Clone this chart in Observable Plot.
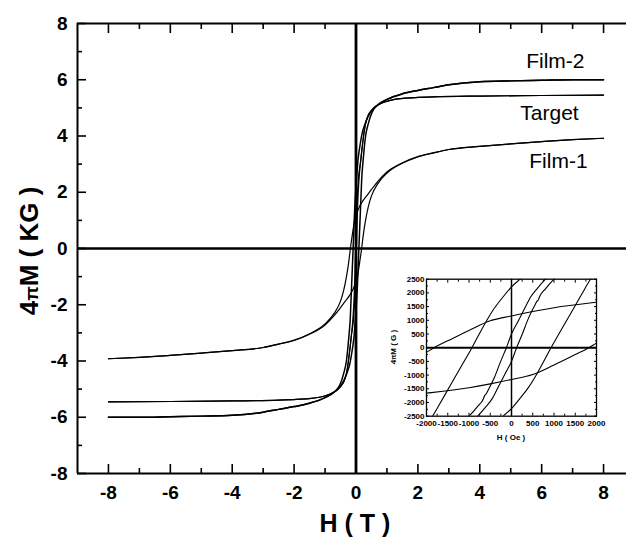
<!DOCTYPE html>
<html>
<head>
<meta charset="utf-8">
<script src="https://cdn.jsdelivr.net/npm/d3@7"></script>
<script src="https://cdn.jsdelivr.net/npm/@observablehq/plot@0.6"></script>
<style>
  body { margin: 0; background: #fff; }
  #chart { position: relative; width: 626px; height: 546px; overflow: hidden; background: #fff; }
  #chart svg { position: absolute; }
</style>
</head>
<body>
<div id="chart"></div>
<script>
const FONT = "'Liberation Sans', Arial, Helvetica, sans-serif";

// Hysteresis branches, [H (T), 4πM (kG)], each listed in increasing field.
// "Down" = field swept from +8 T to -8 T, "Up" = swept from -8 T to +8 T.
const film1Down = [[-8,-3.92],[-7,-3.87],[-6,-3.80],[-5,-3.72],[-4,-3.63],[-3,-3.52],[-2.5,-3.40],[-2,-3.26],[-1.5,-3.03],[-1,-2.68],[-0.7,-2.30],[-0.5,-1.87],[-0.4,-1.50],[-0.3,-0.95],[-0.25,-0.60],[-0.2,-0.17],[-0.18,0.02],[-0.15,0.25],[-0.1,0.63],[-0.05,0.98],[0,1.16],[0.05,1.32],[0.1,1.46],[0.2,1.66],[0.35,1.88],[0.5,2.10],[0.7,2.38],[1,2.72],[1.5,3.05],[2,3.27],[2.5,3.40],[3,3.52],[4,3.63],[5,3.72],[6,3.80],[7,3.87],[8,3.92]];
const film1Up = [[-8,-3.92],[-7,-3.87],[-6,-3.80],[-5,-3.72],[-4,-3.63],[-3,-3.52],[-2.5,-3.40],[-2,-3.27],[-1.5,-3.05],[-1,-2.72],[-0.7,-2.38],[-0.5,-2.10],[-0.35,-1.88],[-0.2,-1.66],[-0.1,-1.46],[-0.05,-1.32],[0,-1.16],[0.05,-0.98],[0.1,-0.63],[0.15,-0.25],[0.18,-0.02],[0.2,0.17],[0.25,0.60],[0.3,0.95],[0.4,1.50],[0.5,1.87],[0.7,2.30],[1,2.68],[1.5,3.03],[2,3.26],[2.5,3.40],[3,3.52],[4,3.63],[5,3.72],[6,3.80],[7,3.87],[8,3.92]];

const film2Down = [[-8,-6.00],[-7,-6.00],[-6,-5.98],[-5,-5.96],[-4,-5.93],[-3,-5.82],[-2.5,-5.72],[-2,-5.62],[-1.5,-5.50],[-1,-5.30],[-0.7,-5.10],[-0.52,-4.85],[-0.4,-4.45],[-0.31,-4.00],[-0.26,-3.50],[-0.22,-3.00],[-0.185,-2.48],[-0.17,-2.08],[-0.15,-1.54],[-0.13,-1.00],[-0.11,-0.46],[-0.093,0],[-0.08,0.38],[-0.06,0.95],[-0.04,1.45],[-0.02,1.85],[0,2.22],[0.02,2.50],[0.06,3.10],[0.12,3.60],[0.2,4.10],[0.3,4.45],[0.5,4.90],[0.7,5.10],[1,5.30],[1.5,5.50],[2,5.62],[2.5,5.72],[3,5.82],[4,5.93],[5,5.96],[6,5.98],[7,6.00],[8,6.00]];
const film2Up = [[-8,-6.00],[-7,-6.00],[-6,-5.98],[-5,-5.96],[-4,-5.93],[-3,-5.82],[-2.5,-5.72],[-2,-5.62],[-1.5,-5.50],[-1,-5.30],[-0.7,-5.10],[-0.5,-4.90],[-0.3,-4.45],[-0.2,-4.10],[-0.12,-3.60],[-0.06,-3.10],[-0.02,-2.50],[0,-2.22],[0.02,-1.85],[0.04,-1.45],[0.06,-0.95],[0.08,-0.38],[0.093,0],[0.11,0.46],[0.13,1.00],[0.15,1.54],[0.17,2.08],[0.185,2.48],[0.22,3.00],[0.26,3.50],[0.31,4.00],[0.4,4.45],[0.52,4.85],[0.7,5.10],[1,5.30],[1.5,5.50],[2,5.62],[2.5,5.72],[3,5.82],[4,5.93],[5,5.96],[6,5.98],[7,6.00],[8,6.00]];

const targetDown = [[-8,-5.45],[-6,-5.44],[-4,-5.42],[-2.5,-5.39],[-1.44,-5.33],[-0.9,-5.20],[-0.7,-5.10],[-0.52,-4.93],[-0.4,-4.75],[-0.3,-4.40],[-0.2,-3.60],[-0.15,-3.10],[-0.1,-2.50],[-0.08,-2.15],[-0.066,-1.86],[-0.063,-1.74],[-0.06,-1.70],[-0.055,-1.55],[-0.04,-1.08],[-0.025,-0.48],[-0.012,0],[0,0.50],[0.015,0.95],[0.03,1.40],[0.045,1.85],[0.06,2.15],[0.08,2.50],[0.15,3.10],[0.2,3.60],[0.3,4.40],[0.4,4.75],[0.52,4.93],[0.7,5.10],[0.9,5.20],[1.44,5.33],[2.5,5.39],[4,5.42],[6,5.44],[8,5.45]];
const targetUp = [[-8,-5.45],[-6,-5.44],[-4,-5.42],[-2.5,-5.39],[-1.44,-5.33],[-0.9,-5.20],[-0.7,-5.10],[-0.52,-4.93],[-0.4,-4.75],[-0.3,-4.40],[-0.2,-3.60],[-0.15,-3.10],[-0.08,-2.50],[-0.06,-2.15],[-0.045,-1.85],[-0.03,-1.40],[-0.015,-0.95],[0,-0.50],[0.012,0],[0.025,0.48],[0.04,1.08],[0.055,1.55],[0.06,1.70],[0.063,1.74],[0.066,1.86],[0.08,2.15],[0.1,2.50],[0.15,3.10],[0.2,3.60],[0.3,4.40],[0.4,4.75],[0.52,4.93],[0.7,5.10],[0.9,5.20],[1.44,5.33],[2.5,5.39],[4,5.42],[6,5.44],[8,5.45]];

// Curve names and where they are written (H in T, 4πM in kG)
const curveNames = ["Film-2", "Target", "Film-1"];
const nameH = [5.50, 5.31, 5.60];
const nameM = [6.66, 4.82, 3.10];

// Tick values
const fieldMajor = [-8, -6, -4, -2, 0, 2, 4, 6, 8];
const fieldMinor = [-7, -5, -3, -1, 1, 3, 5, 7];
const magMajor = [-8, -6, -4, -2, 0, 2, 4, 6, 8];
const magMinor = [-7, -5, -3, -1, 1, 3, 5, 7];
const insetFieldMajor = [-2000, -1500, -1000, -500, 0, 500, 1000, 1500, 2000];
const insetFieldMinor = [-1750, -1250, -750, -250, 250, 750, 1250, 1750];
const insetMagMajor = [-2500, -2000, -1500, -1000, -500, 0, 500, 1000, 1500, 2000, 2500];
const insetMagMinor = [-2250, -1750, -1250, -750, -250, 250, 750, 1250, 1750, 2250];

// [branch, stroke width]: the Film-2 trace is the noisiest, so it reads heavier
const branches = [
  [film1Down, 1.2], [film1Up, 1.2],
  [film2Down, 1.5], [film2Up, 1.5],
  [targetDown, 1.2], [targetUp, 1.2]
];
const fmt = d => String(d);

// ---------- main loop plot ----------
const main = Plot.plot({
  width: 626,
  height: 546,
  marginLeft: 77,
  marginTop: 23,
  marginBottom: 73,
  marginRight: 0,
  x: {domain: [-9, 9], range: [77, 634], axis: null},
  y: {domain: [-8, 8], axis: null},
  style: {fontFamily: FONT, color: "black", background: "white"},
  marks: [
    ...branches.map(([b, w]) => Plot.line(b, {
      x: d => d[0], y: d => d[1], curve: "monotone-x",
      stroke: "black", strokeWidth: w
    })),
    Plot.ruleY([0], {strokeWidth: 2.7}),
    Plot.ruleX([0], {strokeWidth: 2.8}),
    Plot.ruleY([-8, 8], {strokeWidth: 2}),
    Plot.ruleX([-9], {strokeWidth: 2}),
    Plot.axisX(fieldMajor, {anchor: "bottom", tickSize: -9, tickPadding: 21, strokeWidth: 1.6,
      tickFormat: fmt, fontSize: 19, fontWeight: "bold", label: null}),
    Plot.axisX(fieldMinor, {anchor: "bottom", tickSize: -5, strokeWidth: 1.6, fill: "none", label: null}),
    Plot.axisX(fieldMajor, {anchor: "top", tickSize: -9, strokeWidth: 1.6, fill: "none", label: null}),
    Plot.axisX(fieldMinor, {anchor: "top", tickSize: -5, strokeWidth: 1.6, fill: "none", label: null}),
    Plot.axisY(magMajor, {anchor: "left", tickSize: -9, tickPadding: 19, strokeWidth: 1.6,
      tickFormat: fmt, fontSize: 19, fontWeight: "bold", label: null}),
    Plot.axisY(magMinor, {anchor: "left", tickSize: -5, strokeWidth: 1.6, fill: "none", label: null}),
    Plot.text(curveNames, {
      x: (d, i) => nameH[i], y: (d, i) => nameM[i], text: d => d,
      textAnchor: "start", lineAnchor: "middle", fontSize: 21, fill: "black"
    })
  ]
});

const ms = d3.select(main);
const yTitle = ms.append("text")
  .attr("transform", "translate(29,251) rotate(-90)")
  .attr("text-anchor", "middle").attr("dy", "0.36em")
  .attr("font-size", 26).attr("font-weight", "bold").attr("fill", "black");
yTitle.append("tspan").text("4");
yTitle.append("tspan").attr("font-size", 19).text("π");
yTitle.append("tspan").text("M ( KG )");
ms.append("text")
  .attr("x", 355).attr("y", 523).attr("dy", "0.36em")
  .attr("text-anchor", "middle")
  .attr("font-size", 25).attr("font-weight", "bold").attr("fill", "black")
  .text("H ( T )");

// ---------- inset: low-field detail in Oe and G ----------
const inset = Plot.plot({
  width: 240,
  height: 185,
  marginLeft: 46,
  marginRight: 24,
  marginTop: 13.7,
  marginBottom: 34.3,
  x: {domain: [-2000, 2000], axis: null},
  y: {domain: [-2500, 2500], axis: null},
  style: {fontFamily: FONT, color: "black", background: "transparent"},
  marks: [
    Plot.frame({fill: "white", stroke: "none"}),
    ...branches.map(([b]) => Plot.line(b, {
      x: d => d[0] * 1e4, y: d => d[1] * 1e3, curve: "monotone-x",
      stroke: "black", strokeWidth: 1.1, clip: true
    })),
    Plot.ruleY([0], {strokeWidth: 1.9}),
    Plot.ruleX([0], {strokeWidth: 1.5}),
    Plot.frame({strokeWidth: 1.3}),
    Plot.axisX(insetFieldMajor, {anchor: "bottom", tickSize: -3, tickPadding: 7, strokeWidth: 1,
      tickFormat: fmt, fontSize: 8, fontWeight: "bold", label: null}),
    Plot.axisX(insetFieldMinor, {anchor: "bottom", tickSize: -2, strokeWidth: 1, fill: "none", label: null}),
    Plot.axisX(insetFieldMajor, {anchor: "top", tickSize: -3, strokeWidth: 1, fill: "none", label: null}),
    Plot.axisX(insetFieldMinor, {anchor: "top", tickSize: -2, strokeWidth: 1, fill: "none", label: null}),
    Plot.axisY(insetMagMajor, {anchor: "left", tickSize: -3, tickPadding: 5, strokeWidth: 1,
      tickFormat: fmt, fontSize: 8, fontWeight: "bold", label: null}),
    Plot.axisY(insetMagMinor, {anchor: "left", tickSize: -2, strokeWidth: 1, fill: "none", label: null}),
    Plot.axisY(insetMagMajor, {anchor: "right", tickSize: -3, strokeWidth: 1, fill: "none", label: null}),
    Plot.axisY(insetMagMinor, {anchor: "right", tickSize: -2, strokeWidth: 1, fill: "none", label: null})
  ]
});

const is = d3.select(inset);
const iyTitle = is.append("text")
  .attr("transform", "translate(13,82) rotate(-90)")
  .attr("text-anchor", "middle").attr("dy", "0.36em")
  .attr("font-size", 8).attr("font-weight", "bold").attr("fill", "black");
iyTitle.append("tspan").text("4");
iyTitle.append("tspan").attr("font-size", 6.5).text("π");
iyTitle.append("tspan").text("M ( G )");
is.append("text")
  .attr("x", 131).attr("y", 172).attr("dy", "0.36em")
  .attr("text-anchor", "middle")
  .attr("font-size", 8).attr("font-weight", "bold").attr("fill", "black")
  .text("H ( Oe )");

const chart = document.getElementById("chart");
main.style.left = "0px";
main.style.top = "0px";
inset.style.left = "380px";
inset.style.top = "265px";
chart.appendChild(main);
chart.appendChild(inset);
</script>
</body>
</html>
